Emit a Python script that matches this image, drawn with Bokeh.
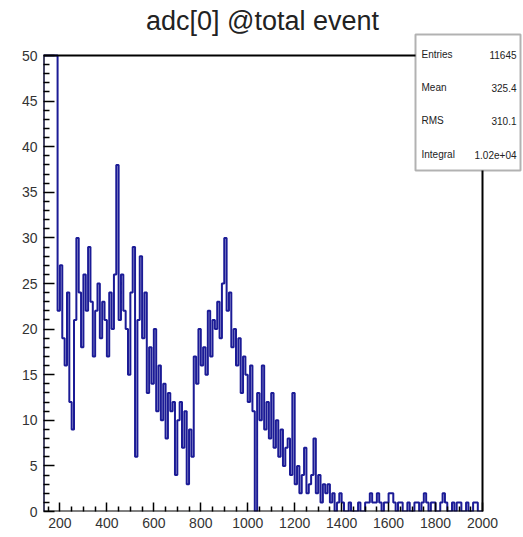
from bokeh.plotting import figure
from bokeh.models import Range1d, FixedTicker, Label, BoxAnnotation
from bokeh.embed import file_html
from bokeh.resources import INLINE
import numpy as np

# ---- data -------------------------------------------------------------
title_text = "adc[0] @total event"
bin_start = 130
bin_width = 10
counts = [
    2400, 1600, 850, 320, 110, 55,
    22, 27, 19, 16, 24, 12, 9,
    21, 30, 24, 18, 26, 22, 29, 23,
    17, 22, 25, 19, 23, 21, 17, 24, 20, 26, 38,
    21, 26, 22, 20, 15, 24, 29, 6, 21, 28, 19,
    24, 13, 18, 14, 20, 11, 16, 10, 14, 8, 13,
    11, 12, 4, 10, 12, 7, 11, 3, 9,
    6, 17, 14, 20, 16, 18, 15, 22, 17, 21, 20, 23,
    19, 25, 30, 22, 24, 18, 20, 16, 19, 13, 17, 15,
    12, 16, 11, 0, 13, 10, 16, 9, 12, 8, 13, 7,
    10, 6, 9, 5, 7, 8, 4, 13, 3, 5, 2, 4,
    7, 2, 3, 4, 8, 2, 4, 1, 3, 2, 3, 1, 2, 0, 1, 2,
    1, 0, 0, 1, 0, 0, 0, 1, 0, 0,
    1, 1, 2, 1, 1, 2, 1, 0, 1, 1,
    2, 2, 1, 0, 1, 1, 0, 0, 1, 0,
    0, 1, 1, 0, 1, 2, 1, 0, 1, 1,
    0, 0, 1, 2, 1, 0, 0, 1, 0, 1,
    1, 0, 0, 1, 0, 0, 1, 1, 0, 0,
]
x_ticks = [200, 400, 600, 800, 1000, 1200, 1400, 1600, 1800, 2000]
y_ticks = [0, 5, 10, 15, 20, 25, 30, 35, 40, 45, 50]
stats_names = ["Entries", "Mean", "RMS", "Integral"]
stats_values = ["11645", "325.4", "310.1", "1.02e+04"]

# ---- layout (pixels) ---------------------------------------------------
W, H = 523, 537
FL, FR, FT, FB = 43, 482, 55, 511          # ROOT frame in page pixels
XMIN, XMAX, YMIN, YMAX = 130, 2000, 0, 50   # axis ranges of the histogram frame
sx = (FR - FL) / (XMAX - XMIN)
sy = (FB - FT) / (YMAX - YMIN)


def px2x(px):
    return XMIN + (px - FL) / sx


def py2y(py):
    return YMIN + (FB - py) / sy


p = figure(width=W, height=H, output_backend="svg", toolbar_location=None,
           x_range=Range1d(XMIN, px2x(W)), y_range=Range1d(YMIN, py2y(0)),
           min_border_left=FL, min_border_right=0, min_border_top=0,
           min_border_bottom=H - FB)
p.background_fill_color = "white"
p.border_fill_color = "white"
p.outline_line_color = None
p.xgrid.visible = False
p.ygrid.visible = False

x_minor = [v for v in np.arange(150, 2001, 50) if v not in x_ticks]
y_minor = [v for v in np.arange(0, 51, 1) if v not in y_ticks]
p.xaxis.ticker = FixedTicker(ticks=x_ticks, minor_ticks=x_minor)
p.yaxis.ticker = FixedTicker(ticks=y_ticks, minor_ticks=y_minor)

for ax in (p.xaxis, p.yaxis):
    ax.axis_line_color = None
    ax.major_tick_out = 0
    ax.minor_tick_out = 0
    ax.major_tick_line_color = "black"
    ax.minor_tick_line_color = "black"
    ax.major_tick_line_width = 1.5
    ax.minor_tick_line_width = 1.5
    ax.major_label_text_font = "Liberation Sans"
    ax.major_label_text_font_size = "14px"
    ax.major_label_text_color = "#333333"
p.xaxis.major_tick_in = 9
p.xaxis.minor_tick_in = 5
p.yaxis.major_tick_in = 11
p.yaxis.minor_tick_in = 6
p.xaxis.major_label_standoff = 6
p.yaxis.major_label_standoff = 6

# ---- histogram outline (clipped at the frame top like ROOT) -------------
edges = bin_start + bin_width * np.arange(len(counts) + 1)
xs = [edges[0]]
ys = [0]
for i, c in enumerate(counts):
    xs += [edges[i], edges[i + 1]]
    ys += [c, c]
xs.append(edges[-1])
ys.append(0)
ys = list(np.minimum(ys, YMAX))
p.line(xs, ys, line_color="#1b1b96", line_width=2)

# ---- frame -------------------------------------------------------------
p.quad(left=[XMIN], right=[XMAX], bottom=[YMIN], top=[YMAX],
       fill_color=None, line_color="black", line_width=2)

# ---- title -------------------------------------------------------------
p.add_layout(Label(x=px2x(262), y=py2y(20), text=title_text,
                   text_font="Liberation Sans", text_font_size="27px",
                   text_align="center", text_baseline="alphabetic",
                   text_color="#222222"))

# ---- stats box ---------------------------------------------------------
box = BoxAnnotation(left=px2x(415), right=px2x(520), top=py2y(34), bottom=py2y(170),
                    fill_color="white", fill_alpha=1.0,
                    line_color="black", line_width=2, level="overlay")
p.add_layout(box)
rows_py = [54, 87, 120, 154]
for name, val, rp in zip(stats_names, stats_values, rows_py):
    p.add_layout(Label(x=px2x(421), y=py2y(rp), text=name, text_font="Liberation Sans",
                       text_font_size="10px", text_baseline="middle",
                       text_align="left", text_color="#222222", level="overlay"))
    p.add_layout(Label(x=px2x(516), y=py2y(rp), text=val, text_font="Liberation Sans",
                       text_font_size="10px", text_baseline="middle",
                       text_align="right", text_color="#222222", level="overlay"))

open("out.html", "w").write(file_html(p, INLINE))
